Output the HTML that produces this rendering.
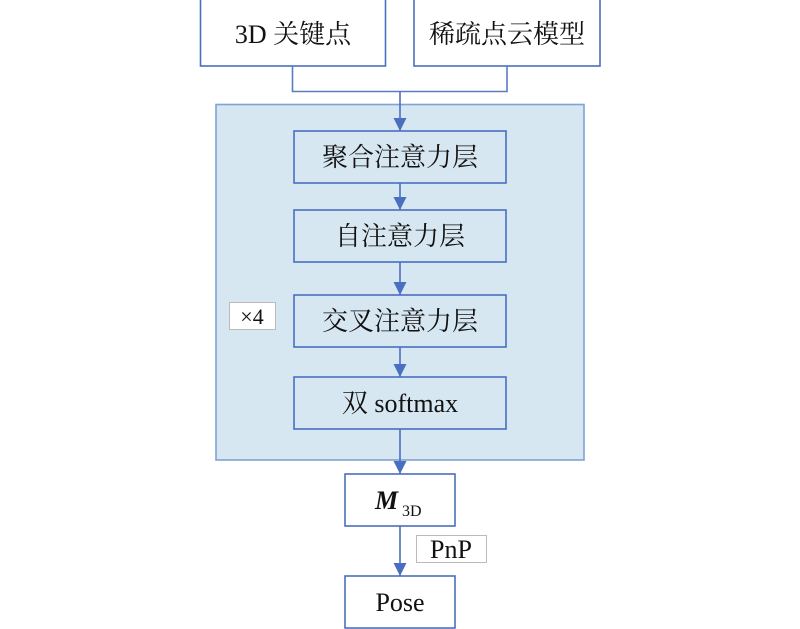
<!DOCTYPE html>
<html><head><meta charset="utf-8"><style>body{margin:0;background:#fff}svg{display:block}text{font-family:"Liberation Serif","Noto Serif CJK SC",serif;fill:#111}</style></head><body>
<svg width="800" height="629" viewBox="0 0 800 629">
<defs><marker id="a" viewBox="0 0 10 10" refX="10" refY="5" markerWidth="13" markerHeight="14" markerUnits="userSpaceOnUse" orient="auto"><path d="M0,0L10,5L0,10z" fill="#4a6fc0"/></marker></defs>
<g fill="none" stroke="#4a6fc0" stroke-width="1.6">
<rect x="200.5" y="-1" width="185" height="67" fill="#fff"/>
<rect x="414" y="-1" width="186" height="67" fill="#fff"/>
<path d="M292.5 66V91.5H507V66" stroke="#5a7cc4"/>
<rect x="216" y="104.5" width="368" height="355.5" fill="#d7e7f2" stroke="#7fa3d4"/>
<rect x="294" y="131" width="212" height="52" fill="#d7e7f2"/>
<rect x="294" y="210" width="212" height="52" fill="#d7e7f2"/>
<rect x="294" y="295" width="212" height="52" fill="#d7e7f2"/>
<rect x="294" y="377" width="212" height="52" fill="#d7e7f2"/>
<rect x="345" y="474" width="110" height="52" fill="#fff"/>
<rect x="345" y="576" width="110" height="52" fill="#fff"/>
<line x1="400" y1="91.5" x2="400" y2="131" marker-end="url(#a)"/>
<line x1="400" y1="183" x2="400" y2="210" marker-end="url(#a)"/>
<line x1="400" y1="262" x2="400" y2="295" marker-end="url(#a)"/>
<line x1="400" y1="347" x2="400" y2="377" marker-end="url(#a)"/>
<line x1="400" y1="429" x2="400" y2="474" marker-end="url(#a)"/>
<line x1="400" y1="526" x2="400" y2="576" marker-end="url(#a)"/>
</g>
<rect x="229.5" y="302.5" width="46" height="27" fill="#fff" stroke="#bbb"/>
<rect x="416.5" y="535.5" width="70" height="27" fill="#fff" stroke="#bbb"/>
<g font-size="26" text-anchor="middle">
<text x="293" y="43">3D 关键点</text>
<text x="507" y="43">稀疏点云模型</text>
<text x="400" y="166">聚合注意力层</text>
<text x="400" y="245">自注意力层</text>
<text x="400" y="330">交叉注意力层</text>
<text x="400" y="412">双 softmax</text>
<text x="400" y="611">Pose</text>
<text x="451" y="558">PnP</text>
<text x="252" y="324" font-size="22">×4</text>
</g>
<text x="375" y="509" font-size="26" font-style="italic" font-weight="bold">M</text>
<text x="402" y="516" font-size="16">3D</text>
</svg>
</body></html>
